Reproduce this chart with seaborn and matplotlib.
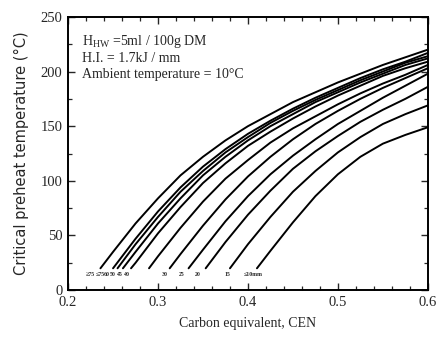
import numpy as np
import pandas as pd
import matplotlib
matplotlib.use("Agg")
import matplotlib.pyplot as plt
from matplotlib.ticker import MultipleLocator
import seaborn as sns

# plate thickness labels (thickest curve first, left to right)
thickness = ["≥75", "≤75", "60", "50", "45", "40", "30", "25", "20", "15", "≤10mm"]

# carbon equivalent grid and critical preheat temperature
cen_c1 = [0.236, 0.25, 0.275, 0.30, 0.325, 0.35, 0.375, 0.40, 0.425, 0.45, 0.475, 0.50, 0.525, 0.55, 0.575, 0.60]
t_c1 = [20, 35, 61, 84, 105, 122, 137, 150, 161, 172, 181, 190, 198, 206, 213, 220]

cen_c2 = [0.250, 0.275, 0.30, 0.325, 0.35, 0.375, 0.40, 0.425, 0.45, 0.475, 0.50, 0.525, 0.55, 0.575, 0.60]
t_c2 = [20, 47, 72, 94, 113, 129, 143, 155, 166, 176, 185, 194, 202, 209, 217]

cen_c3 = [0.255, 0.275, 0.30, 0.325, 0.35, 0.375, 0.40, 0.425, 0.45, 0.475, 0.50, 0.525, 0.55, 0.575, 0.60]
t_c3 = [20, 42, 67, 90, 109, 126, 140, 153, 164, 174, 183, 192, 200, 208, 214]

cen_c4 = [0.261, 0.275, 0.30, 0.325, 0.35, 0.375, 0.40, 0.425, 0.45, 0.475, 0.50, 0.525, 0.55, 0.575, 0.60]
t_c4 = [20, 35, 61, 84, 105, 122, 137, 150, 161, 172, 181, 190, 198, 206, 212]

cen_c5 = [0.270, 0.275, 0.30, 0.325, 0.35, 0.375, 0.40, 0.425, 0.45, 0.475, 0.50, 0.525, 0.55, 0.575, 0.60]
t_c5 = [20, 25, 52, 76, 98, 116, 132, 145, 157, 168, 178, 187, 196, 203, 209]

cen_c6 = [0.290, 0.30, 0.325, 0.35, 0.375, 0.40, 0.425, 0.45, 0.475, 0.50, 0.525, 0.55, 0.575, 0.60]
t_c6 = [20, 31, 57, 81, 102, 119, 135, 148, 159, 170, 180, 189, 197, 206]

cen_c7 = [0.313, 0.325, 0.35, 0.375, 0.40, 0.425, 0.45, 0.475, 0.50, 0.525, 0.55, 0.575, 0.60]
t_c7 = [20, 33, 59, 83, 104, 122, 138, 152, 164, 175, 185, 194, 203]

cen_c8 = [0.334, 0.35, 0.375, 0.40, 0.425, 0.45, 0.475, 0.50, 0.525, 0.55, 0.575, 0.60]
t_c8 = [20, 37, 63, 86, 106, 123, 138, 152, 164, 176, 187, 198]

cen_c9 = [0.353, 0.375, 0.40, 0.425, 0.45, 0.475, 0.50, 0.525, 0.55, 0.575, 0.60]
t_c9 = [20, 44, 69, 91, 111, 127, 141, 154, 165, 175, 186]

cen_c10 = [0.380, 0.40, 0.425, 0.45, 0.475, 0.50, 0.525, 0.55, 0.575, 0.60]
t_c10 = [20, 42, 67, 90, 109, 126, 140, 152, 161, 169]

cen_c11 = [0.410, 0.425, 0.45, 0.475, 0.50, 0.525, 0.55, 0.575, 0.60]
t_c11 = [20, 36, 62, 86, 106, 122, 134, 142, 149]

cen_all = [cen_c1, cen_c2, cen_c3, cen_c4, cen_c5, cen_c6, cen_c7, cen_c8, cen_c9, cen_c10, cen_c11]
t_all = [t_c1, t_c2, t_c3, t_c4, t_c5, t_c6, t_c7, t_c8, t_c9, t_c10, t_c11]

rows = []
for lab, xs, ys in zip(thickness, cen_all, t_all):
    for x, y in zip(xs, ys):
        rows.append({"thickness": lab, "CEN": x, "T": y})
df = pd.DataFrame(rows)

sns.set_style("ticks")
serif = ["Liberation Serif", "DejaVu Serif"]
plt.rcParams["font.family"] = serif
plt.rcParams["mathtext.fontset"] = "custom"
plt.rcParams["mathtext.rm"] = "Liberation Serif"

fig = plt.figure(figsize=(4.42, 3.37), dpi=100)
ax = fig.add_axes([0.154, 0.139, 0.814, 0.811])

sns.lineplot(data=df, x="CEN", y="T", hue="thickness", units="thickness",
             palette=["black"] * len(thickness), estimator=None, sort=False,
             linewidth=1.4, legend=False, ax=ax)

ax.set_xlim(0.2, 0.6)
ax.set_ylim(0, 250)
ax.xaxis.set_major_locator(MultipleLocator(0.1))
ax.xaxis.set_minor_locator(MultipleLocator(0.02))
ax.yaxis.set_major_locator(MultipleLocator(50))
ax.yaxis.set_minor_locator(MultipleLocator(25))
ax.set_xticks([0.2, 0.3, 0.4, 0.5, 0.6])
ax.set_xticklabels(["0.2", "0.3", "0.4", "0.5", "0.6"])
ax.tick_params(which="both", direction="in", top=True, right=True, labelsize=10.5, pad=4)
ax.tick_params(which="major", length=5, width=1.0)
ax.tick_params(which="minor", length=3, width=0.9)
for s in ax.spines.values():
    s.set_linewidth(1.4)
    s.set_color("black")

ax.set_xlabel("Carbon equivalent, CEN", fontsize=10, labelpad=6)
ax.set_ylabel("Critical preheat temperature (°C)", fontsize=10.5,
              family=["DejaVu Sans"], labelpad=8)

# condition text block
ax.text(0.215, 224, r"H$_{\mathrm{HW}}$ =5ml / 100g DM", fontsize=10)
ax.text(0.215, 209, "H.I. = 1.7kJ / mm", fontsize=10)
ax.text(0.215, 194, "Ambient temperature = 10°C", fontsize=10)

# thickness labels under the curve feet
label_x = [0.2245, 0.2355, 0.2430, 0.2500, 0.2575, 0.2660, 0.3080, 0.3260, 0.3440, 0.3770, 0.4060]
for lab, lx in zip(thickness, label_x):
    ax.text(lx, 14.5, lab, fontsize=4.2, fontweight="bold", ha="center", va="center")

fig.savefig("out.png", dpi=100)
